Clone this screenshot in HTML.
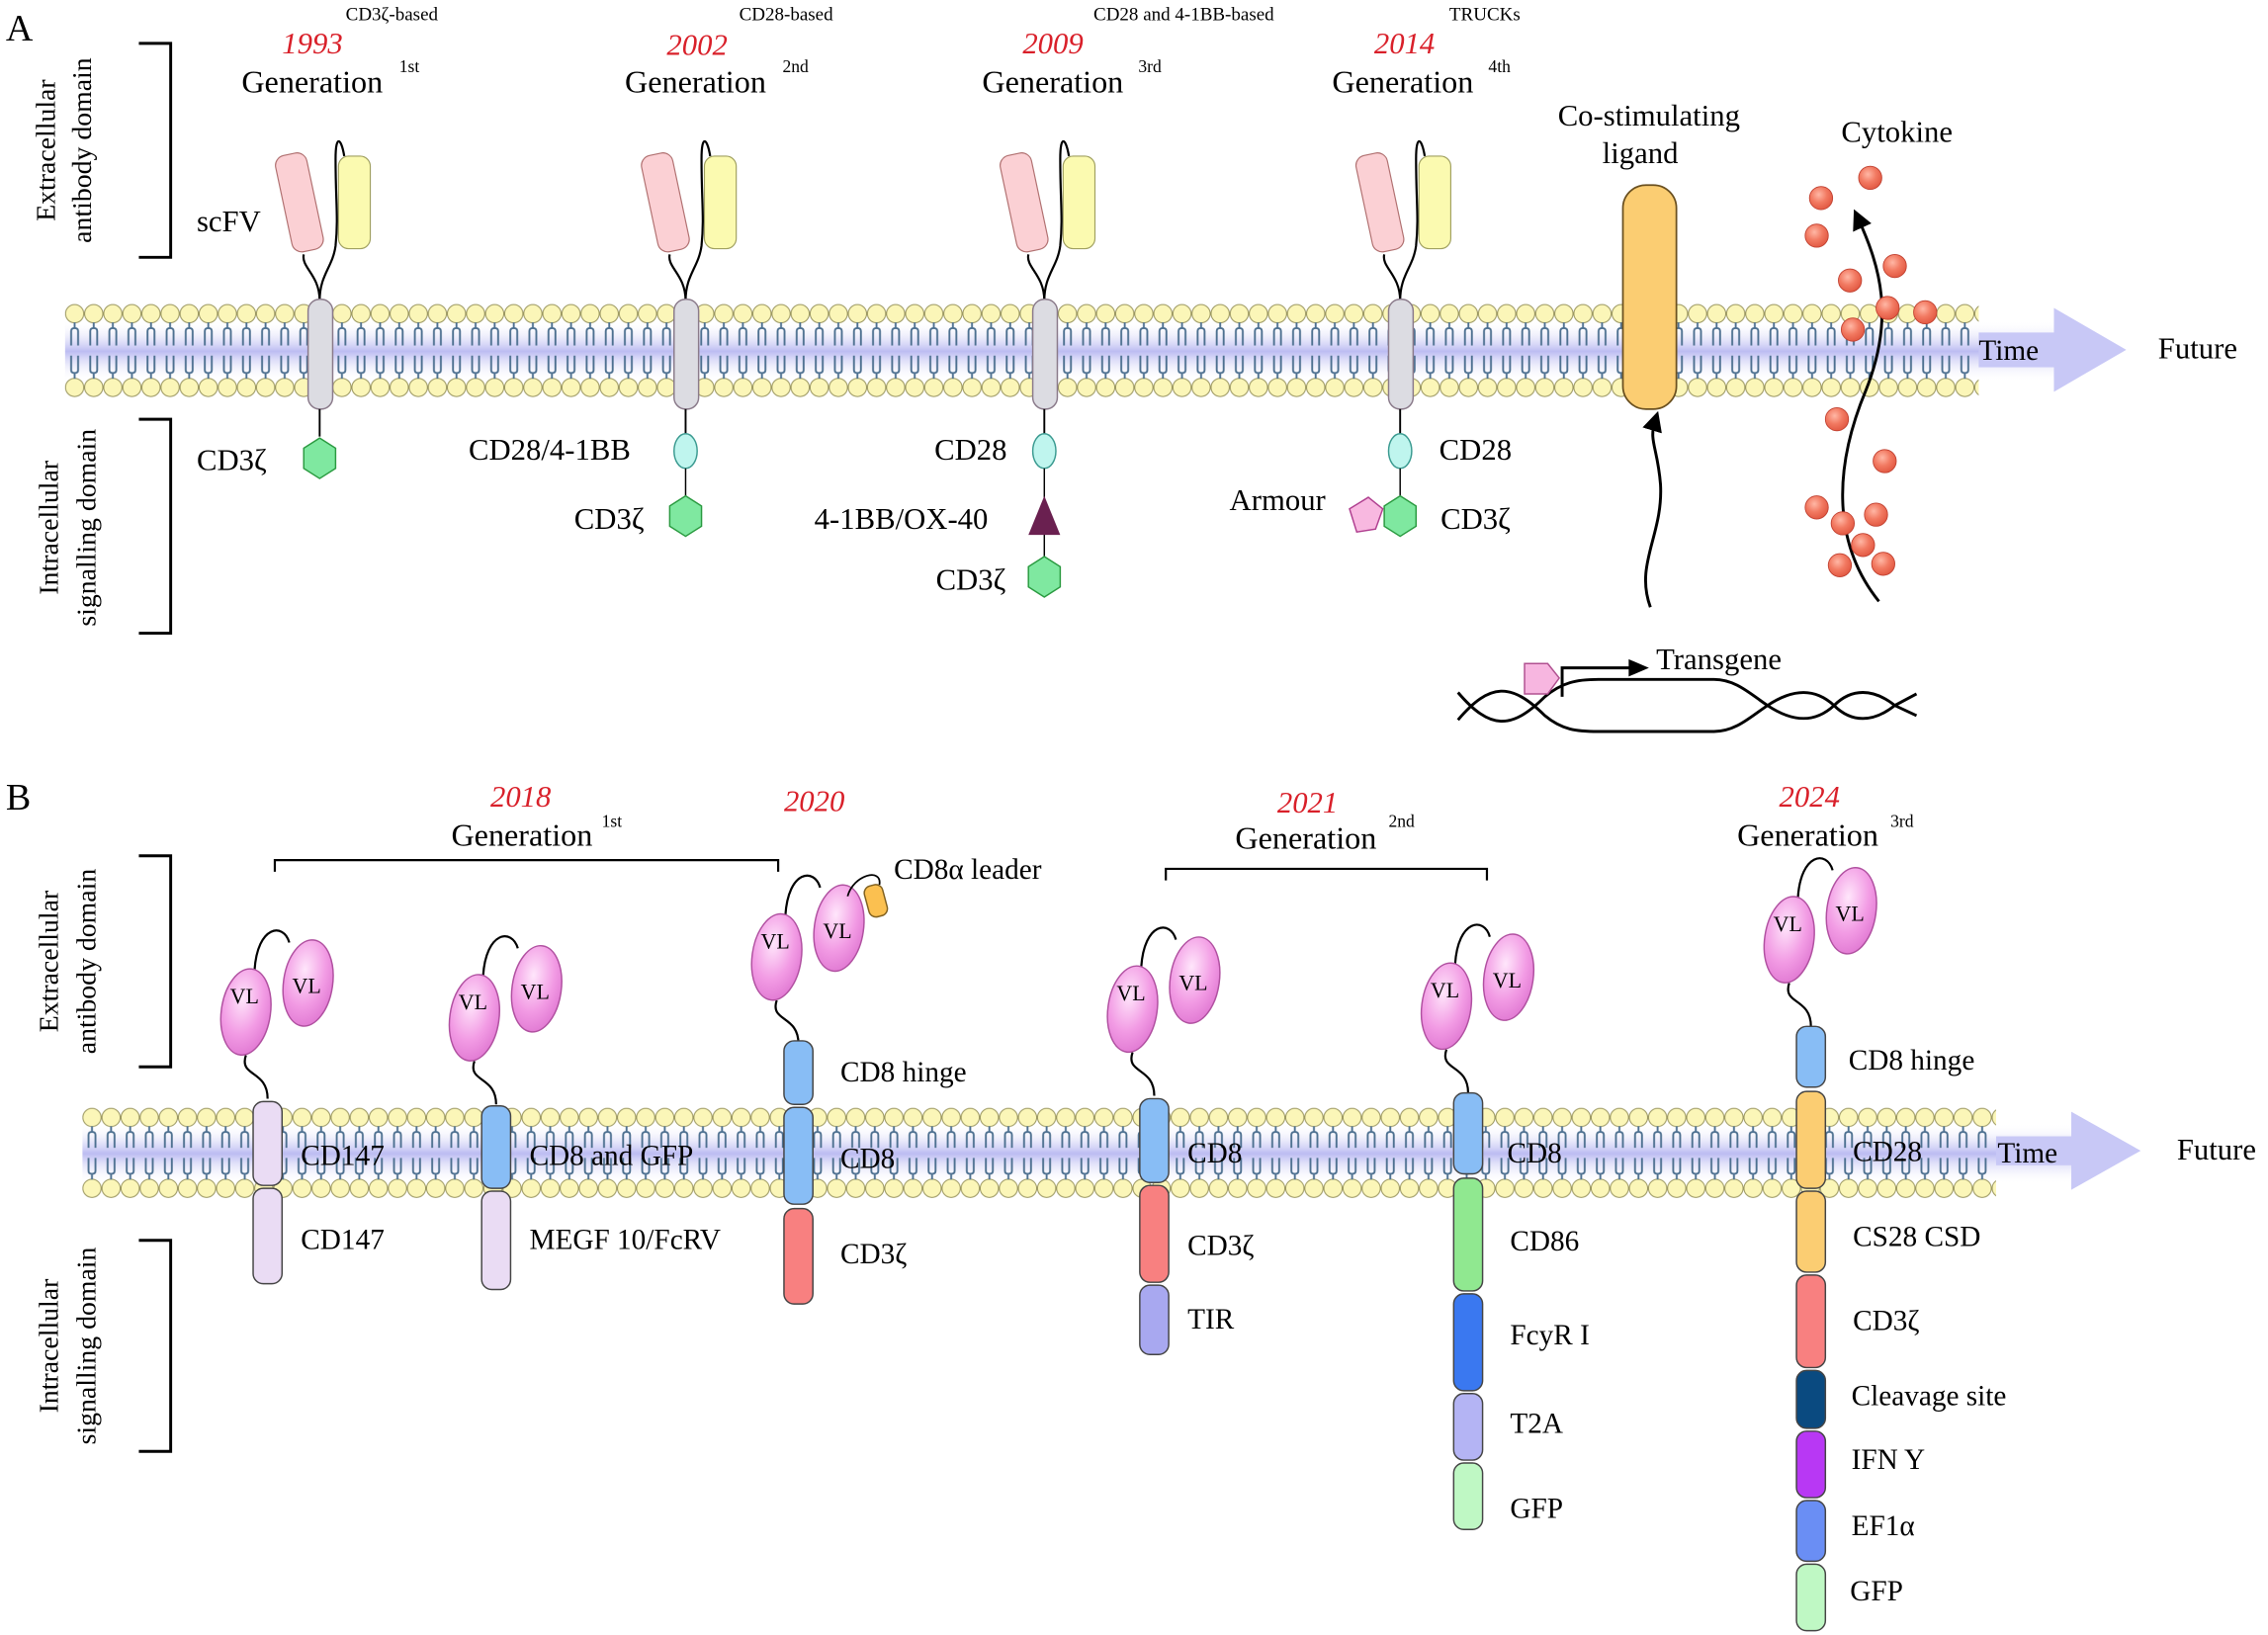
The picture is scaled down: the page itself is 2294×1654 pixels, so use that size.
<!DOCTYPE html>
<html><head><meta charset="utf-8"><style>
html,body{margin:0;padding:0;background:#fff}
svg{display:block}
text{font-family:"Liberation Serif",serif;fill:#000}
.r{fill:#d9202a;font-style:italic}
</style></head><body>
<svg width="2294" height="1654" viewBox="0 0 1568 1131" preserveAspectRatio="none" xmlns="http://www.w3.org/2000/svg">
<defs>
<linearGradient id="band" x1="0" y1="0" x2="0" y2="1">
<stop offset="0" stop-color="#fff" stop-opacity="0"/><stop offset="0.5" stop-color="#bcbcf2"/><stop offset="1" stop-color="#fff" stop-opacity="0"/></linearGradient>
<pattern id="memA" patternUnits="userSpaceOnUse" x="45" y="210" width="13.2" height="65">
<circle cx="6.6" cy="7" r="6.3" fill="#fbf6b8" stroke="#9a9660" stroke-width="0.7"/>
<circle cx="6.6" cy="58" r="6.3" fill="#fbf6b8" stroke="#9a9660" stroke-width="0.7"/>
<path d="M6.6 13v4M4.2 29v-10q0-2 2.4-2t2.4 2v10M6.6 52v-4M4.2 36v10q0 2 2.4 2t2.4-2v-10" fill="none" stroke="#4d7090" stroke-width="1.3"/>
</pattern>
<pattern id="memB" patternUnits="userSpaceOnUse" x="57" y="766" width="13.2" height="63">
<circle cx="6.6" cy="7" r="6.3" fill="#fbf6b8" stroke="#9a9660" stroke-width="0.7"/>
<circle cx="6.6" cy="56" r="6.3" fill="#fbf6b8" stroke="#9a9660" stroke-width="0.7"/>
<path d="M6.6 13v4M4.2 28v-9q0-2 2.4-2t2.4 2v9M6.6 50v-4M4.2 35v9q0 2 2.4 2t2.4-2v-9" fill="none" stroke="#4d7090" stroke-width="1.3"/>
</pattern>
<radialGradient id="dot" cx="0.4" cy="0.35" r="0.7"><stop offset="0" stop-color="#ffb7a5"/><stop offset="0.5" stop-color="#f27a62"/><stop offset="1" stop-color="#e0553f"/></radialGradient>
<radialGradient id="vl" cx="0.4" cy="0.35" r="0.7"><stop offset="0" stop-color="#ffe6fb"/><stop offset="0.6" stop-color="#f29be4"/><stop offset="1" stop-color="#e078d2"/></radialGradient>
<marker id="ah" markerWidth="14" markerHeight="14" refX="6" refY="7" orient="auto" markerUnits="userSpaceOnUse" viewBox="0 0 14 14"><path d="M0 0L14 7L0 14z" fill="#000"/></marker>
</defs>

<!-- ===== PANEL A ===== -->
<text x="4" y="28" font-size="26">A</text>
<path d="M96 30h22v148h-22M96 290h22v148h-22" fill="none" stroke="#000" stroke-width="2"/>
<text transform="translate(38,104) rotate(-90)" font-size="19" text-anchor="middle">Extracellular</text>
<text transform="translate(63,104) rotate(-90)" font-size="19" text-anchor="middle">antibody domain</text>
<text transform="translate(40,365) rotate(-90)" font-size="19" text-anchor="middle">Intracellular</text>
<text transform="translate(66,365) rotate(-90)" font-size="19" text-anchor="middle">signalling domain</text>

<rect x="45" y="222" width="1380" height="42" fill="url(#band)"/>
<rect x="45" y="210" width="1323" height="65" fill="url(#memA)"/>
<path d="M1368 230h52v-17l50 29-50 29v-17h-52z" fill="#c8c8f6"/>
<text x="1368" y="249" font-size="20">Time</text>
<text x="1492" y="248" font-size="21">Future</text>

<text x="239" y="14" font-size="13">CD3ζ-based</text>
<text class="r" x="195" y="37" font-size="21">1993</text>
<text x="167" y="64" font-size="22">Generation</text><text x="276" y="50" font-size="12">1st</text>
<text x="511" y="14" font-size="13">CD28-based</text>
<text class="r" x="461" y="38" font-size="21">2002</text>
<text x="432" y="64" font-size="22">Generation</text><text x="541" y="50" font-size="12">2nd</text>
<text x="756" y="14" font-size="13">CD28 and 4-1BB-based</text>
<text class="r" x="707" y="37" font-size="21">2009</text>
<text x="679" y="64" font-size="22">Generation</text><text x="787" y="50" font-size="12">3rd</text>
<text x="1002" y="14" font-size="13">TRUCKs</text>
<text class="r" x="950" y="37" font-size="21">2014</text>
<text x="921" y="64" font-size="22">Generation</text><text x="1029" y="50" font-size="12">4th</text>

<g id="carA">
<rect x="196" y="106" width="22" height="68" rx="7" fill="#fbd0d4" stroke="#b07070" stroke-width="0.8" transform="rotate(-12 207 140)"/>
<rect x="234" y="108" width="22" height="64" rx="7" fill="#fbfab0" stroke="#a0a060" stroke-width="0.8"/>
<path d="M221 208C221 190 208 185 210 176M238 108C236 96 232 92 232 110C232 140 234 150 232 170C230 185 221 190 221 208" fill="none" stroke="#000" stroke-width="1.5"/>
<rect x="213" y="207" width="17" height="76" rx="8" fill="#dcdce2" stroke="#8a7a8a" stroke-width="1"/>
<line x1="221" y1="283" x2="221" y2="302" stroke="#000" stroke-width="1.3"/>
</g>
<use href="#carA" x="253"/>
<use href="#carA" x="501"/>
<use href="#carA" x="747"/>
<polygon points="221,303 232,310 232,324 221,331 210,324 210,310" fill="#7fe8a0" stroke="#2a9a40" stroke-width="1"/>
<text x="136" y="325" font-size="21">CD3ζ</text>
<text x="136" y="160" font-size="21">scFV</text>

<ellipse cx="474" cy="312" rx="8" ry="12" fill="#bff5ee" stroke="#3a9a90"/>
<line x1="474" y1="324" x2="474" y2="343" stroke="#000"/>
<polygon points="474,343 485,350 485,364 474,371 463,364 463,350" fill="#7fe8a0" stroke="#2a9a40"/>
<text x="324" y="318" font-size="21">CD28/4-1BB</text>
<text x="397" y="366" font-size="21">CD3ζ</text>

<ellipse cx="722" cy="312" rx="8" ry="12" fill="#bff5ee" stroke="#3a9a90"/>
<line x1="722" y1="324" x2="722" y2="386" stroke="#000"/>
<polygon points="722,343 733,370 711,370" fill="#6a2050"/>
<polygon points="722,385 733,392 733,406 722,413 711,406 711,392" fill="#7fe8a0" stroke="#2a9a40"/>
<text x="646" y="318" font-size="21">CD28</text>
<text x="563" y="366" font-size="21">4-1BB/OX-40</text>
<text x="647" y="408" font-size="21">CD3ζ</text>

<ellipse cx="968" cy="312" rx="8" ry="12" fill="#bff5ee" stroke="#3a9a90"/>
<line x1="968" y1="324" x2="968" y2="343" stroke="#000"/>
<polygon points="968,343 979,350 979,364 968,371 957,364 957,350" fill="#7fe8a0" stroke="#2a9a40"/>
<polygon points="933,352 946,344 956,352 951,366 938,368" fill="#f8b8e0" stroke="#b04090"/>
<text x="995" y="318" font-size="21">CD28</text>
<text x="850" y="353" font-size="21">Armour</text>
<text x="996" y="366" font-size="21">CD3ζ</text>

<text x="1140" y="87" font-size="21" text-anchor="middle">Co-stimulating</text>
<text x="1134" y="113" font-size="21" text-anchor="middle">ligand</text>
<rect x="1122" y="128" width="37" height="155" rx="16" fill="#fbcd72" stroke="#6a5020" stroke-width="1.2"/>
<path d="M1141 420C1130 390 1150 370 1148 335C1146 310 1140 305 1144 292" fill="none" stroke="#000" stroke-width="2" marker-end="url(#ah)"/>

<text x="1273" y="98" font-size="21">Cytokine</text>
<path d="M1299 416C1270 380 1265 330 1290 270C1310 220 1300 185 1285 152" fill="none" stroke="#000" stroke-width="2" marker-end="url(#ah)"/>
<g fill="url(#dot)" stroke="#c04030" stroke-width="0.6">
<circle cx="1259" cy="137" r="8"/><circle cx="1293" cy="123" r="8"/><circle cx="1256" cy="163" r="8"/>
<circle cx="1310" cy="184" r="8"/><circle cx="1279" cy="194" r="8"/><circle cx="1305" cy="213" r="8"/>
<circle cx="1281" cy="228" r="8"/><circle cx="1331" cy="216" r="8"/><circle cx="1270" cy="290" r="8"/>
<circle cx="1303" cy="319" r="8"/><circle cx="1256" cy="351" r="8"/><circle cx="1297" cy="356" r="8"/>
<circle cx="1274" cy="362" r="8"/><circle cx="1288" cy="377" r="8"/><circle cx="1272" cy="391" r="8"/><circle cx="1302" cy="390" r="8"/>
</g>
<path d="M1008 479C1030 505 1045 505 1068 482C1080 472 1090 470 1105 470H1185C1200 470 1210 480 1222 488C1240 500 1255 500 1268 488C1280 476 1295 476 1310 488L1325 495M1008 498C1030 472 1045 472 1068 495C1080 505 1090 506 1105 506H1185C1200 506 1210 496 1222 488C1240 476 1255 476 1268 488C1280 500 1295 500 1310 488L1325 480" fill="none" stroke="#000" stroke-width="2"/>
<polygon points="1054,459 1070,459 1078,469 1070,480 1054,480" fill="#f7b6e0" stroke="#b05090"/>
<path d="M1080 482V462H1130" fill="none" stroke="#000" stroke-width="2"/>
<polygon points="1126,456 1140,462 1126,468" fill="#000"/>
<text x="1145" y="463" font-size="21">Transgene</text>

<!-- ===== PANEL B ===== -->
<text x="4" y="560" font-size="26">B</text>
<path d="M96 592h22v146h-22M96 858h22v146h-22" fill="none" stroke="#000" stroke-width="2"/>
<text transform="translate(40,665) rotate(-90)" font-size="19" text-anchor="middle">Extracellular</text>
<text transform="translate(66,665) rotate(-90)" font-size="19" text-anchor="middle">antibody domain</text>
<text transform="translate(40,931) rotate(-90)" font-size="19" text-anchor="middle">Intracellular</text>
<text transform="translate(66,931) rotate(-90)" font-size="19" text-anchor="middle">signalling domain</text>

<rect x="57" y="777" width="1380" height="42" fill="url(#band)"/>
<rect x="57" y="766" width="1323" height="63" fill="url(#memB)"/>
<path d="M1380 786h52v-17l48 27-48 27v-17h-52z" fill="#c8c8f6"/>
<text x="1381" y="804" font-size="20">Time</text>
<text x="1505" y="802" font-size="21">Future</text>

<text class="r" x="339" y="558" font-size="21">2018</text>
<text x="312" y="585" font-size="22">Generation</text><text x="416" y="572" font-size="12">1st</text>
<path d="M190 603v-8h348v8" fill="none" stroke="#000" stroke-width="1.5"/>
<text class="r" x="542" y="561" font-size="21">2020</text>
<text class="r" x="883" y="562" font-size="21">2021</text>
<text x="854" y="587" font-size="22">Generation</text><text x="960" y="572" font-size="12">2nd</text>
<path d="M806 609v-8h222v8" fill="none" stroke="#000" stroke-width="1.5"/>
<text class="r" x="1230" y="558" font-size="21">2024</text>
<text x="1201" y="585" font-size="22">Generation</text><text x="1307" y="572" font-size="12">3rd</text>

<g stroke-width="1" stroke="#444">
<g id="vlp">
<path d="M185 760C185 740 165 745 170 730M176 671C178 640 196 638 200 652" fill="none" stroke="#000" stroke-width="1.5"/>
<ellipse cx="170" cy="700" rx="17" ry="30" fill="url(#vl)" stroke="#b050a0" transform="rotate(8 170 700)"/>
<ellipse cx="213" cy="680" rx="17" ry="30" fill="url(#vl)" stroke="#b050a0" transform="rotate(8 213 680)"/>
<text x="159" y="694" font-size="15" stroke="none">VL</text>
<text x="202" y="687" font-size="15" stroke="none">VL</text>
</g>
<use href="#vlp" x="158" y="4"/>
<use href="#vlp" x="367" y="-38"/>
<use href="#vlp" x="613" y="-2"/>
<use href="#vlp" x="830" y="-4"/>
<use href="#vlp" x="1067" y="-50"/>
<rect x="599" y="612" width="13" height="22" rx="5" fill="#fbc050" stroke="#806020" transform="rotate(-15 606 623)"/>
<path d="M586 620C590 605 610 600 608 612" fill="none" stroke="#000" stroke-width="1.2"/>

<rect x="175" y="762" width="20" height="58" rx="7" fill="#eadcf4"/>
<rect x="175" y="822" width="20" height="66" rx="7" fill="#eadcf4"/>
<rect x="333" y="765" width="20" height="57" rx="7" fill="#88bdf5"/>
<rect x="333" y="824" width="20" height="68" rx="7" fill="#eadcf4"/>
<rect x="542" y="720" width="20" height="44" rx="7" fill="#88bdf5"/>
<rect x="542" y="766" width="20" height="67" rx="7" fill="#88bdf5"/>
<rect x="542" y="836" width="20" height="66" rx="7" fill="#f88080"/>
<rect x="788" y="760" width="20" height="58" rx="7" fill="#88bdf5"/>
<rect x="788" y="820" width="20" height="67" rx="7" fill="#f88080"/>
<rect x="788" y="889" width="20" height="48" rx="7" fill="#a8a8f0"/>
<rect x="1005" y="756" width="20" height="56" rx="7" fill="#88bdf5"/>
<rect x="1005" y="815" width="20" height="78" rx="7" fill="#90e890"/>
<rect x="1005" y="895" width="20" height="67" rx="7" fill="#3a78f0"/>
<rect x="1005" y="964" width="20" height="46" rx="7" fill="#b4b4f4"/>
<rect x="1005" y="1012" width="20" height="46" rx="7" fill="#bff8c4"/>
<rect x="1242" y="710" width="20" height="42" rx="7" fill="#88bdf5"/>
<rect x="1242" y="755" width="20" height="67" rx="7" fill="#fbcd72"/>
<rect x="1242" y="824" width="20" height="56" rx="7" fill="#fbcd72"/>
<rect x="1242" y="882" width="20" height="64" rx="7" fill="#f88080"/>
<rect x="1242" y="948" width="20" height="40" rx="7" fill="#0a4a80"/>
<rect x="1242" y="990" width="20" height="46" rx="7" fill="#b838f4"/>
<rect x="1242" y="1038" width="20" height="42" rx="7" fill="#6a8ef4"/>
<rect x="1242" y="1082" width="20" height="46" rx="7" fill="#bff8c4"/>
</g>

<text x="618" y="608" font-size="20">CD8α leader</text>
<text x="208" y="806" font-size="20">CD147</text>
<text x="208" y="864" font-size="20">CD147</text>
<text x="366" y="806" font-size="20">CD8 and GFP</text>
<text x="366" y="864" font-size="20">MEGF 10/FcRV</text>
<text x="581" y="748" font-size="20">CD8 hinge</text>
<text x="581" y="808" font-size="20">CD8</text>
<text x="581" y="874" font-size="20">CD3ζ</text>
<text x="821" y="804" font-size="20">CD8</text>
<text x="821" y="868" font-size="20">CD3ζ</text>
<text x="821" y="919" font-size="20">TIR</text>
<text x="1042" y="804" font-size="20">CD8</text>
<text x="1044" y="865" font-size="20">CD86</text>
<text x="1044" y="930" font-size="20">FcyR I</text>
<text x="1044" y="991" font-size="20">T2A</text>
<text x="1044" y="1050" font-size="20">GFP</text>
<text x="1278" y="740" font-size="20">CD8 hinge</text>
<text x="1281" y="803" font-size="20">CD28</text>
<text x="1281" y="862" font-size="20">CS28 CSD</text>
<text x="1281" y="920" font-size="20">CD3ζ</text>
<text x="1280" y="972" font-size="20">Cleavage site</text>
<text x="1280" y="1016" font-size="20">IFN Y</text>
<text x="1280" y="1062" font-size="20">EF1α</text>
<text x="1279" y="1107" font-size="20">GFP</text>
</svg>
</body></html>
